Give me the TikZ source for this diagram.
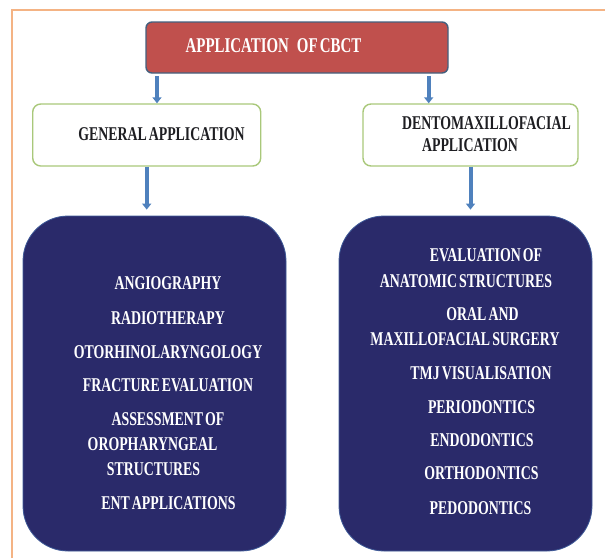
\documentclass[tikz,border=0pt]{standalone}
\usepackage{fontspec}
\usepackage{xcolor}
\usepackage{tikz}
\usetikzlibrary{arrows.meta,positioning}
\newfontfamily\cbctfont{Liberation Serif}[FakeStretch=0.71,WordSpace=0.6]
\definecolor{cbctred}{HTML}{C0504D}
\definecolor{cbctedge}{HTML}{44607E}
\definecolor{cbctgreen}{HTML}{A9C87A}
\definecolor{cbctnavy}{HTML}{2A2A6A}
\definecolor{cbctblue}{HTML}{4F81BD}
\definecolor{cbctframe}{HTML}{F4B384}
\definecolor{cbctdark}{HTML}{1E1E22}

\begin{document}
\begin{tikzpicture}[x=1pt,y=-1pt,
    font=\cbctfont\bfseries\fontsize{19.5}{21}\selectfont,
    txt/.style={inner sep=0pt,text depth=0pt},
    headbox/.style={draw=cbctgreen,line width=1.4pt,fill=white,rounded corners=8pt,
      minimum height=62pt,inner sep=0pt},
    listbox/.style={draw=cbctblue!55!cbctnavy,line width=0.8pt,fill=cbctnavy,
      rounded corners=45pt,minimum height=335pt,inner sep=0pt},
    flow/.style={draw=cbctblue,line width=4pt,-{Triangle[width=9pt,length=6pt]}}]
  \useasboundingbox (0,0) rectangle (605,558);
  % outer frame, cut by the page on the right and at the bottom
  \draw[cbctframe,line width=1.6pt] (12,558) -- (12,10) -- (605,10);
  % top box
  \node[draw=cbctedge,line width=1.4pt,fill=cbctred,rounded corners=6pt,
    minimum width=302pt,minimum height=51pt,inner sep=0pt] (cbct) at (297,47.5) {};
  \node[txt,text=white,font=\cbctfont\bfseries\fontsize{21}{23}\selectfont]
    (cbcttext) at (273.5,46) {APPLICATION\hspace{8pt}OF CBCT};
  % second row
  \node[headbox,minimum width=228pt] (general) at (146.7,135) {};
  \node[txt,text=cbctdark] (generaltext) at (161.5,134.5) {GENERAL APPLICATION};
  \node[headbox,minimum width=215pt] (dento) at (470.5,135) {};
  \node[txt,text=cbctdark] (dentotext) at (486.5,123) {DENTOMAXILLOFACIAL};
  \node[txt,text=cbctdark] (dentotextb) at (470,145) {APPLICATION};
  % lists
  \node[listbox,minimum width=263pt] (genlist) at (154.5,383.5) {};
  \node[listbox,minimum width=253pt] (dentolist) at (465.5,383.5) {};
  \foreach \x/\y/\t [count=\i] in {168/283/ANGIOGRAPHY,168/318/RADIOTHERAPY,
      168/352/OTORHINOLARYNGOLOGY,168/385/FRACTURE EVALUATION,168/419/ASSESSMENT OF,
      152.5/444/OROPHARYNGEAL,153.5/469/STRUCTURES,168.5/503/ENT APPLICATIONS}
    \node[txt,text=white] (gen\i) at (\x,\y) {\t};
  \foreach \x/\y/\t [count=\i] in {486/255/EVALUATION OF,466/281/ANATOMIC STRUCTURES,
      482.5/314/ORAL AND,465/339/MAXILLOFACIAL SURGERY,481/373/TMJ VISUALISATION,
      481.5/407/PERIODONTICS,482/440/ENDODONTICS,481.5/473/ORTHODONTICS,
      480.5/508/PEDODONTICS}
    \node[txt,text=white] (dento\i) at (\x,\y) {\t};
  % arrows
  \coordinate (cbctl) at ([xshift=11.7pt]cbct.south west);
  \coordinate (cbctr) at ([xshift=-20pt]cbct.south east);
  \draw[flow,shorten <=2.5pt] (cbctl) -- (cbctl |- general.north);
  \draw[flow,shorten <=2.5pt] (cbctr) -- (cbctr |- dento.north);
  \draw[flow,shorten >=6pt] (general.south) -- (general.south |- genlist.north);
  \draw[flow,shorten >=6pt] (dento.south) -- (dento.south |- dentolist.north);
\end{tikzpicture}
\end{document}
